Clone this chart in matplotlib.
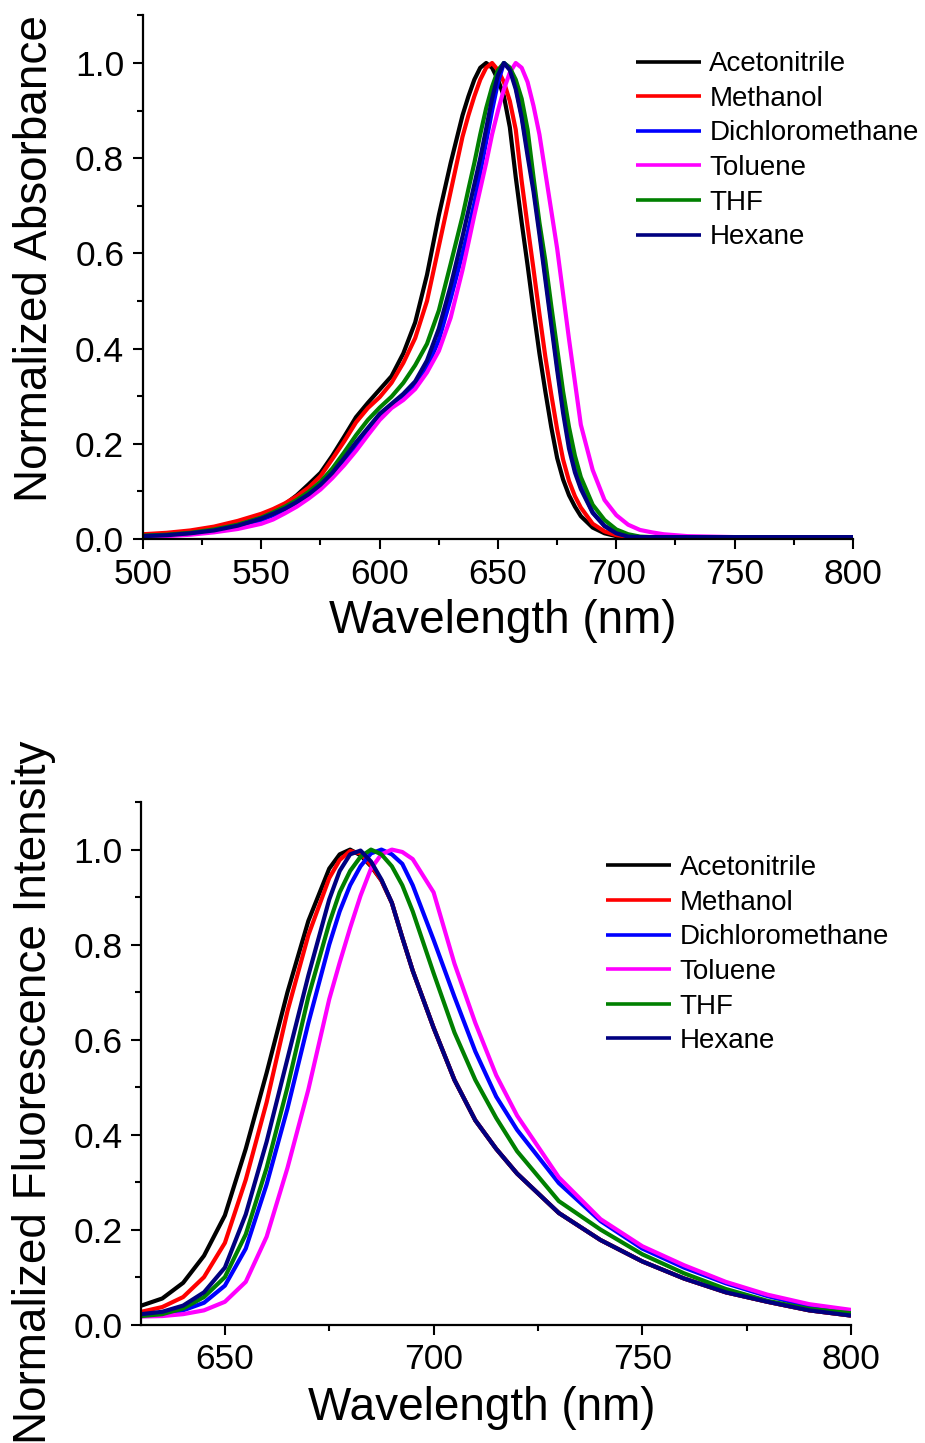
import matplotlib
matplotlib.use("Agg")
import matplotlib.pyplot as plt
from matplotlib.ticker import MultipleLocator, FormatStrFormatter

plt.rcParams['font.family'] = ['Liberation Sans', 'DejaVu Sans']

solvents = ["Acetonitrile", "Methanol", "Dichloromethane", "Toluene", "THF", "Hexane"]
colors = ["#000000", "#FF0000", "#0000FF", "#FF00FF", "#008000", "#000080"]

# ---------------- Absorbance (top) ----------------
wl_abs = [500, 510, 520, 530, 540, 550, 555, 560, 565, 570, 575, 580, 585, 590, 595,
          600, 605, 610, 615, 620, 625, 630, 635, 637.5, 640,
          642.5, 645, 647.5, 650, 652.5, 655, 657.5, 660, 662.5, 665,
          667.5, 670, 672.5, 675, 677.5, 680, 682.5, 685, 690, 695,
          700, 705, 710, 715, 720, 730, 750, 775, 800]

abs_acetonitrile = [.008, .011, .016, .024, .035, .050, .060, .073, .092, .115, .139, .175, .215, .256, .286,
                    .314, .342, .390, .455, .555, .680, .790, .890, .930, .965,
                    .990, 1.000, .990, .965, .930, .865, .760, .665, .575, .480,
                    .390, .310, .235, .170, .125, .092, .068, .048, .024, .012,
                    .006, .004, .004, .004, .004, .004, .004, .004, .004]
abs_methanol = [.010, .013, .018, .026, .038, .053, .063, .075, .090, .108, .132, .168, .205, .245, .275,
                .298, .328, .370, .422, .500, .615, .730, .845, .890, .930,
                .965, .990, 1.000, .985, .960, .920, .860, .752, .658, .567,
                .473, .383, .304, .230, .167, .122, .090, .066, .032, .016,
                .008, .005, .004, .004, .004, .004, .004, .004, .004]
abs_dcm = [.006, .008, .011, .017, .026, .040, .050, .061, .075, .090, .110, .135, .163, .193, .228,
           .258, .278, .297, .322, .360, .418, .505, .600, .650, .705,
           .770, .835, .900, .960, 1.000, .990, .950, .890, .815, .740,
           .650, .555, .460, .365, .275, .200, .147, .110, .056, .028,
           .013, .006, .004, .004, .004, .004, .004, .004, .004]
abs_toluene = [.004, .006, .009, .014, .021, .032, .041, .054, .068, .085, .104, .128, .155, .185, .218,
               .250, .275, .292, .315, .350, .395, .465, .565, .622, .680,
               .735, .790, .850, .900, .945, .980, 1.000, .990, .960, .910,
               .850, .770, .690, .610, .515, .420, .330, .240, .145, .082,
               .050, .030, .019, .014, .010, .006, .004, .004, .004]
abs_thf = [.007, .009, .013, .020, .030, .045, .056, .068, .082, .099, .120, .148, .182, .218, .250,
           .276, .299, .328, .365, .410, .480, .578, .678, .735, .790,
           .850, .905, .950, .985, 1.000, .990, .965, .925, .860, .760,
           .665, .585, .490, .400, .310, .235, .175, .130, .072, .040,
           .020, .010, .005, .004, .004, .004, .004, .004, .004]
abs_hexane = [.006, .008, .012, .018, .028, .043, .053, .064, .078, .094, .114, .139, .170, .203, .233,
              .263, .284, .305, .331, .375, .442, .532, .635, .690, .745,
              .800, .862, .925, .975, 1.000, .985, .945, .885, .805, .730,
              .640, .545, .450, .355, .265, .190, .140, .105, .055, .027,
              .012, .005, .004, .004, .004, .004, .004, .004, .004]

# ---------------- Fluorescence (bottom) ----------------
wl_fl = [630, 635, 640, 645, 650, 655, 660, 665, 670, 675, 677.5, 680, 682.5, 685, 687.5,
         690, 692.5, 695, 700, 705, 710, 715, 720, 730, 740, 750, 760, 770, 780, 790, 800]

fl_acetonitrile = [.040, .055, .088, .145, .230, .370, .530, .700, .850, .960, .990, 1.000, .988, .965, .935,
                   .888, .815, .745, .625, .515, .430, .370, .318, .235, .178, .133, .097, .068, .048, .030, .019]
fl_methanol = [.027, .037, .058, .100, .172, .305, .468, .660, .820, .940, .978, .997, .992, .967, .935,
               .888, .815, .745, .625, .515, .430, .370, .318, .235, .178, .133, .097, .068, .048, .030, .019]
fl_dcm = [.020, .022, .030, .046, .082, .160, .295, .455, .635, .800, .870, .925, .965, .992, 1.000,
          .990, .970, .925, .810, .690, .575, .480, .410, .298, .218, .160, .120, .087, .060, .039, .027]
fl_toluene = [.017, .018, .022, .030, .048, .090, .185, .330, .495, .685, .762, .835, .903, .960, .990,
              1.000, .995, .980, .910, .760, .635, .525, .440, .310, .222, .165, .125, .090, .063, .043, .031]
fl_thf = [.018, .022, .034, .058, .100, .190, .330, .500, .690, .845, .910, .955, .985, 1.000, .990,
          .965, .925, .870, .740, .615, .515, .435, .365, .260, .200, .148, .108, .075, .050, .033, .024]
fl_hexane = [.022, .027, .040, .068, .120, .232, .385, .560, .735, .895, .955, .990, .998, .975, .937,
             .888, .815, .745, .625, .515, .430, .370, .318, .235, .178, .133, .097, .068, .048, .030, .019]

abs_series = [abs_acetonitrile, abs_methanol, abs_dcm, abs_toluene, abs_thf, abs_hexane]
fl_series = [fl_acetonitrile, fl_methanol, fl_dcm, fl_toluene, fl_thf, fl_hexane]

W, H = 925, 1443
fig = plt.figure(figsize=(W / 100, H / 100), dpi=100)

ax1 = fig.add_axes([143 / W, 1 - 539 / H, 710 / W, 523.6 / H])
ax2 = fig.add_axes([141.4 / W, 1 - 1324.6 / H, 709.6 / W, 522.5 / H])

LW = 3.0
for ax, x, series in [(ax1, wl_abs, abs_series), (ax2, wl_fl, fl_series)]:
    for name, col, ys in zip(solvents, colors, series):
        ax.plot(x, ys, color=col, lw=LW, label=name,
                solid_joinstyle='round', solid_capstyle='butt')
    for s in ['top', 'right']:
        ax.spines[s].set_visible(False)
    for s in ['left', 'bottom']:
        ax.spines[s].set_linewidth(1.6)
    ax.tick_params(which='major', direction='out', length=7.5, width=1.5, labelsize=25.5, pad=6)
    ax.tick_params(which='minor', direction='out', length=4.5, width=1.5)
    ax.set_ylim(0, 1.1)
    ax.yaxis.set_major_locator(MultipleLocator(0.2))
    ax.yaxis.set_minor_locator(MultipleLocator(0.1))
    ax.xaxis.set_major_locator(MultipleLocator(50))
    ax.xaxis.set_minor_locator(MultipleLocator(25))
    ax.yaxis.set_major_formatter(FormatStrFormatter('%.1f'))

ax1.set_xlim(500, 800)
ax2.set_xlim(630, 800)

ax1.set_xlabel("Wavelength (nm)", fontsize=33)
ax1.set_ylabel("Normalized Absorbance", fontsize=33)
ax2.set_xlabel("Wavelength (nm)", fontsize=33)
ax2.set_ylabel("Normalized Fluorescence Intensity", fontsize=33)

ax1.xaxis.set_label_coords(0.507, -0.115)
ax1.yaxis.set_label_coords(-0.1205, 0.535)
ax2.xaxis.set_label_coords(0.479, -0.118)
ax2.yaxis.set_label_coords(-0.121, 0.445)

leg_kw = dict(frameon=False, fontsize=20, handlelength=2.35, handletextpad=0.3,
              labelspacing=0.31, borderpad=0, borderaxespad=0, loc='upper left')
leg1 = ax1.legend(bbox_to_anchor=(0.694, 0.9315), **leg_kw)
leg2 = ax2.legend(bbox_to_anchor=(0.655, 0.8986), **leg_kw)
for leg in (leg1, leg2):
    for h in leg.get_lines():
        h.set_linewidth(2.6)

fig.savefig("out.png", dpi=100)
